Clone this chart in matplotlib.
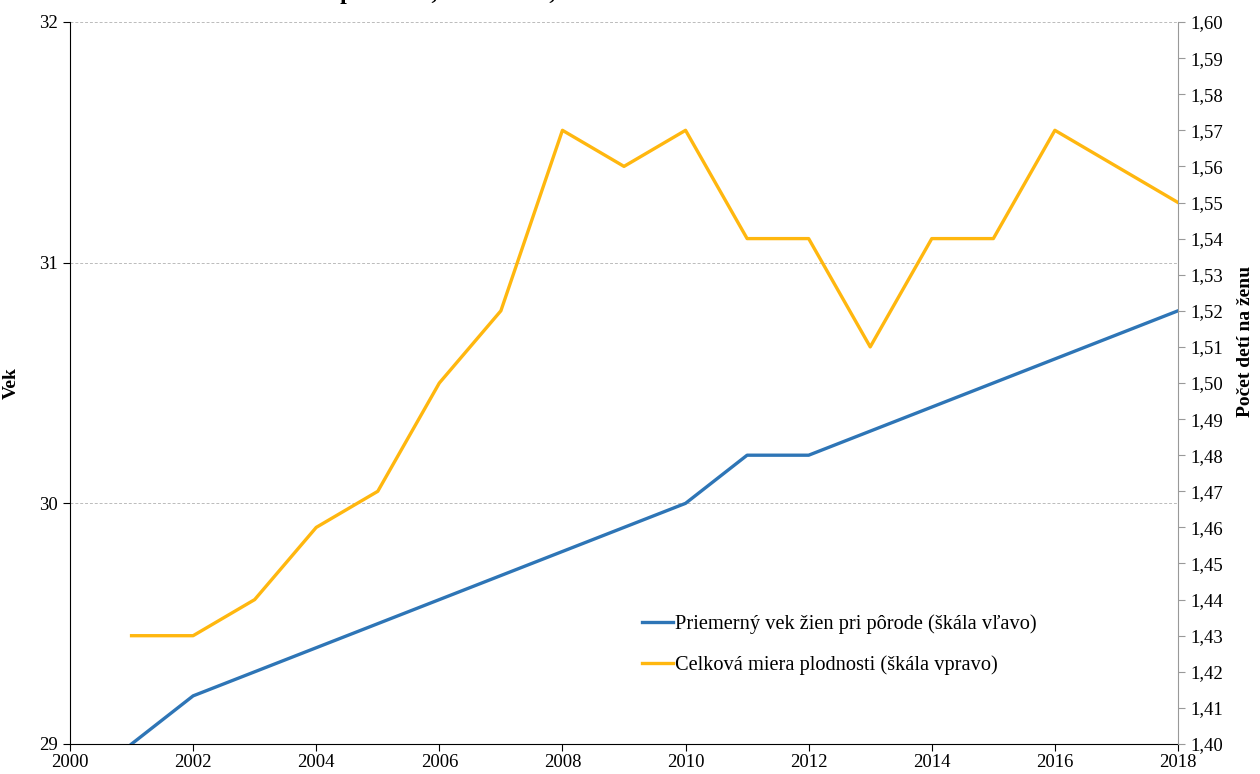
import numpy as np
import matplotlib
matplotlib.use("Agg")
import matplotlib.pyplot as plt
from matplotlib.ticker import FuncFormatter, MultipleLocator

plt.rcParams['font.family'] = ['Liberation Serif', 'DejaVu Serif']

# data
years = [2001, 2002, 2003, 2004, 2005, 2006, 2007, 2008, 2009,
         2010, 2011, 2012, 2013, 2014, 2015, 2016, 2017, 2018]
avg_age = [29.0, 29.2, 29.3, 29.4, 29.5, 29.6, 29.7, 29.8, 29.9,
           30.0, 30.2, 30.2, 30.3, 30.4, 30.5, 30.6, 30.7, 30.8]
fertility = [1.43, 1.43, 1.44, 1.46, 1.47, 1.50, 1.52, 1.57, 1.56,
             1.57, 1.54, 1.54, 1.51, 1.54, 1.54, 1.57, 1.56, 1.55]
x_ticks = [2000, 2002, 2004, 2006, 2008, 2010, 2012, 2014, 2016, 2018]
age_ticks = [29, 30, 31, 32]

label_age = "Priemerný vek žien pri pôrode (škála vľavo)"
label_tfr = "Celková miera plodnosti (škála vpravo)"

blue = "#2E75B6"
orange = "#FFB70F"

fig = plt.figure(figsize=(12.6, 7.74), dpi=100)
ax = fig.add_axes([70 / 1260, 1 - 744 / 774, (1178 - 70) / 1260, (744 - 22) / 774])
ax2 = ax.twinx()

l1, = ax.plot(years, avg_age, color=blue, lw=2.4, label=label_age, zorder=3)
l2, = ax2.plot(years, fertility, color=orange, lw=2.4, label=label_tfr, zorder=3)

ax.set_xlim(2000, 2018)
ax.set_ylim(29, 32)
ax2.set_ylim(1.40, 1.60)
ax.set_xticks(x_ticks)
ax.set_yticks(age_ticks)
ax2.yaxis.set_major_locator(MultipleLocator(0.01))
ax2.yaxis.set_major_formatter(FuncFormatter(lambda v, p: f"{v:.2f}".replace(".", ",")))

ax.grid(axis='y', color='#BBBBBB', linestyle=(0, (3, 2)), linewidth=0.7)
ax.set_axisbelow(True)

for a in (ax, ax2):
    a.spines['top'].set_visible(False)
ax.spines['right'].set_visible(False)
ax2.spines['left'].set_visible(False)
ax2.spines['bottom'].set_visible(False)
ax2.spines['right'].set_color('#999999')
ax.spines['left'].set_color('black')
ax.spines['bottom'].set_color('black')

ax.tick_params(axis='both', labelsize=13.5, direction='out', length=5, width=0.8)
ax.tick_params(axis='x', pad=2)
ax2.tick_params(axis='y', labelsize=13.5, direction='out', length=5, width=0.8,
                color='#999999', pad=4)

ax.set_ylabel("Vek", fontsize=14, fontweight='bold', labelpad=14)
fig.text(1246 / 1260, 1 - 341 / 774, "Počet detí na ženu", rotation=90, fontsize=14,
         fontweight='bold', ha='center', va='center')

# title sits mostly above the canvas, only descenders visible
fig.text(278 / 1260, 1.0 + 1 / 774, "Vek a plodnosť, 2001–2018, Slovensko",
         fontsize=17, fontweight='bold', ha='left', va='baseline')

ax.legend(handles=[l1, l2], loc='upper left', bbox_to_anchor=(0.5, 0.205),
          frameon=False, fontsize=14.7, handlelength=1.5, handletextpad=0.1,
          labelspacing=1.05)

fig.savefig("out.png", dpi=100)
